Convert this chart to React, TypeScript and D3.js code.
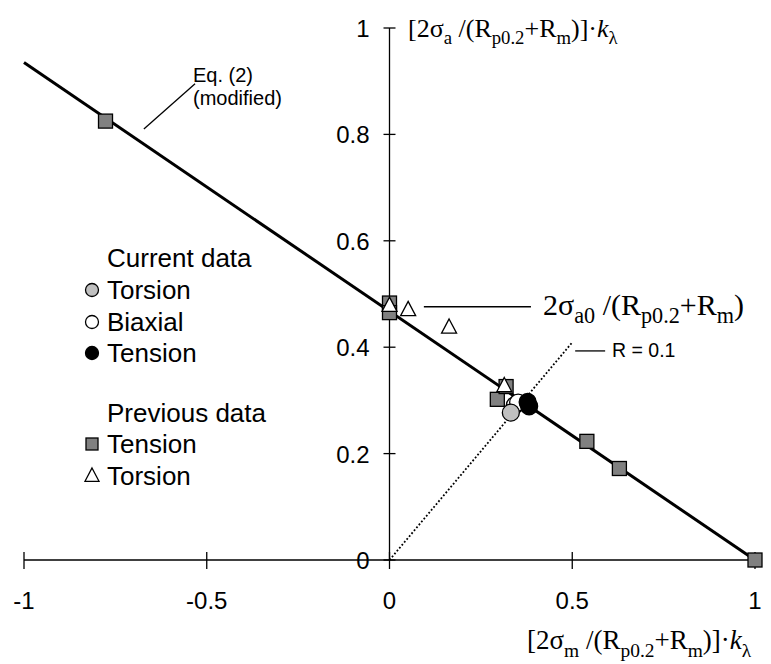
import { useEffect, useRef } from 'react';
import * as d3 from 'd3';

// axis ticks
const xTicks = [-1, -0.5, 0, 0.5, 1];
const yTicks = [0, 0.2, 0.4, 0.6, 0.8, 1];

// Eq. (2) modified line and R = 0.1 load line
const eqLineX = [-1, 1];
const eqLineY = [0.935, 0];
const rLineX = [0, 0.5];
const rLineY = [0, 0.409];

// previous data
const prevTensionX = [-0.777, 0, 0, 0.295, 0.319, 0.54, 0.629, 1];
const prevTensionY = [0.825, 0.483, 0.465, 0.302, 0.326, 0.223, 0.172, 0];
const prevTorsionX = [0, 0.051, 0.163, 0.314];
const prevTorsionY = [0.478, 0.47, 0.437, 0.327];

// current data
const biaxialX = [0.343, 0.352];
const biaxialY = [0.291, 0.296];
const torsionX = [0.332];
const torsionY = [0.277];
const tensionX = [0.378, 0.382];
const tensionY = [0.297, 0.289];

const legendLabels = ['Current data', 'Torsion', 'Biaxial', 'Tension', 'Previous data', 'Tension', 'Torsion'];

const SANS = "Arial, 'Liberation Sans', sans-serif";
const SERIF = "'Times New Roman', 'Liberation Serif', serif";

type Seg = { t: string; sub?: boolean; it?: boolean };

function mathText(g: any, x: number, y: number, size: number, segs: Seg[], subScale = 0.72) {
  const text = g.append('text')
    .attr('x', x)
    .attr('y', y)
    .attr('font-family', SERIF)
    .attr('font-size', size)
    .attr('fill', '#000');
  let down = false;
  const shift = size * 0.28;
  segs.forEach(s => {
    const ts = text.append('tspan').text(s.t);
    if (s.sub && !down) { ts.attr('dy', shift); down = true; }
    else if (!s.sub && down) { ts.attr('dy', -shift); down = false; }
    if (s.sub) ts.attr('font-size', size * subScale);
    if (s.it) ts.attr('font-style', 'italic');
  });
}

export default function App() {
  const svgRef = useRef<SVGSVGElement>(null);

  useEffect(() => {
    if (!svgRef.current) return;
    const svg = d3.select(svgRef.current);
    svg.selectAll('*').remove();

    const x = d3.scaleLinear().domain([-1, 1]).range([24, 755]);
    const y = d3.scaleLinear().domain([0, 1]).range([560, 28]);

    // x axis
    svg.append('line')
      .attr('x1', x(-1)).attr('x2', x(1))
      .attr('y1', y(0)).attr('y2', y(0))
      .attr('stroke', '#000').attr('stroke-width', 1.3);
    svg.selectAll('.xtick').data(xTicks).enter().append('line')
      .attr('x1', d => x(d)).attr('x2', d => x(d))
      .attr('y1', y(0) - 8).attr('y2', y(0) + 9)
      .attr('stroke', '#000').attr('stroke-width', 1.3);
    svg.selectAll('.xlab').data(xTicks).enter().append('text')
      .attr('x', d => x(d)).attr('y', y(0) + 49)
      .attr('text-anchor', 'middle')
      .attr('font-family', SANS).attr('font-size', 24)
      .text(d => String(d));

    // y axis
    svg.append('line')
      .attr('x1', x(0)).attr('x2', x(0))
      .attr('y1', y(0)).attr('y2', y(1))
      .attr('stroke', '#000').attr('stroke-width', 1.3);
    svg.selectAll('.ytick').data(yTicks).enter().append('line')
      .attr('x1', x(0) - 6).attr('x2', x(0) + 6)
      .attr('y1', d => y(d)).attr('y2', d => y(d))
      .attr('stroke', '#000').attr('stroke-width', 1.3);
    svg.selectAll('.ylab').data(yTicks).enter().append('text')
      .attr('x', x(0) - 20).attr('y', d => y(d) + 9)
      .attr('text-anchor', 'end')
      .attr('font-family', SANS).attr('font-size', 24)
      .text(d => String(d));

    // axis titles
    mathText(svg, 408, 37, 26, [
      { t: '[2σ' }, { t: 'a', sub: true }, { t: ' /(R' }, { t: 'p0.2', sub: true },
      { t: '+R' }, { t: 'm', sub: true }, { t: ')]·' }, { t: 'k', it: true }, { t: 'λ', sub: true },
    ]);
    mathText(svg, 527, 649, 27, [
      { t: '[2σ' }, { t: 'm', sub: true }, { t: ' /(R' }, { t: 'p0.2', sub: true },
      { t: '+R' }, { t: 'm', sub: true }, { t: ')]·' }, { t: 'k', it: true }, { t: 'λ', sub: true },
    ]);

    // lines
    const line = d3.line<number>().x((d, i) => x(eqLineX[i])).y(d => y(d));
    svg.append('path')
      .attr('d', line(eqLineY))
      .attr('fill', 'none').attr('stroke', '#000').attr('stroke-width', 3);
    const rline = d3.line<number>().x((d, i) => x(rLineX[i])).y(d => y(d));
    svg.append('path')
      .attr('d', rline(rLineY))
      .attr('fill', 'none').attr('stroke', '#000').attr('stroke-width', 1.8)
      .attr('stroke-dasharray', '1.8,2');

    // annotations
    const ann = svg.append('g').attr('stroke', '#000').attr('stroke-width', 1.3);
    ann.append('line').attr('x1', x(-0.532)).attr('y1', y(0.895)).attr('x2', x(-0.672)).attr('y2', y(0.81));
    ann.append('line').attr('x1', x(0.094)).attr('y1', y(0.476)).attr('x2', x(0.387)).attr('y2', y(0.476));
    ann.append('line').attr('x1', x(0.508)).attr('y1', y(0.393)).attr('x2', x(0.59)).attr('y2', y(0.393));

    svg.append('text').attr('x', 193).attr('y', 82)
      .attr('font-family', SANS).attr('font-size', 20).text('Eq. (2)');
    svg.append('text').attr('x', 193).attr('y', 105)
      .attr('font-family', SANS).attr('font-size', 20).text('(modified)');
    svg.append('text').attr('x', 612).attr('y', 357)
      .attr('font-family', SANS).attr('font-size', 19.5).text('R = 0.1');
    mathText(svg, 543, 315, 30, [
      { t: '2σ' }, { t: 'a0', sub: true }, { t: ' /(R' }, { t: 'p0.2', sub: true },
      { t: '+R' }, { t: 'm', sub: true }, { t: ')' },
    ], 0.74);

    // markers
    const square = (g: any, cx: number, cy: number, s: number) =>
      g.append('rect').attr('x', cx - s / 2).attr('y', cy - s / 2).attr('width', s).attr('height', s)
        .attr('fill', '#808080').attr('stroke', '#000').attr('stroke-width', 1.3);
    const tri = (g: any, cx: number, cy: number, s: number) => {
      const h = s * 0.95;
      g.append('path')
        .attr('d', `M${cx},${cy - h * 0.6}L${cx + s / 2},${cy + h * 0.4}L${cx - s / 2},${cy + h * 0.4}Z`)
        .attr('fill', '#fff').attr('stroke', '#000').attr('stroke-width', 1.3);
    };
    const circ = (g: any, cx: number, cy: number, r: number, fill: string) =>
      g.append('circle').attr('cx', cx).attr('cy', cy).attr('r', r)
        .attr('fill', fill).attr('stroke', '#000').attr('stroke-width', 1.3);

    const pts = svg.append('g');
    prevTensionX.forEach((v, i) => square(pts, x(v), y(prevTensionY[i]), 14));
    prevTorsionX.forEach((v, i) => tri(pts, x(v), y(prevTorsionY[i]), 15));
    biaxialX.forEach((v, i) => circ(pts, x(v), y(biaxialY[i]), 8.5, '#fff'));
    torsionX.forEach((v, i) => circ(pts, x(v), y(torsionY[i]), 8.5, '#c0c0c0'));
    tensionX.forEach((v, i) => circ(pts, x(v), y(tensionY[i]), 8.5, '#000'));

    // legend
    const lg = svg.append('g');
    const rowY = [258, 290, 322, 353, 413, 444, 476];
    legendLabels.forEach((t, i) => {
      lg.append('text').attr('x', 107).attr('y', rowY[i] + 9)
        .attr('font-family', SANS).attr('font-size', 26).text(t);
    });
    circ(lg, 92, rowY[1], 6.5, '#c0c0c0');
    circ(lg, 92, rowY[2], 6.5, '#fff');
    circ(lg, 92, rowY[3], 6.5, '#000');
    square(lg, 92, rowY[5], 12);
    tri(lg, 92, rowY[6], 14);
  }, []);

  return (
    <svg ref={svgRef} width={771} height={664}
      style={{ position: 'absolute', left: 0, top: 0, background: '#fff' }} />
  );
}
